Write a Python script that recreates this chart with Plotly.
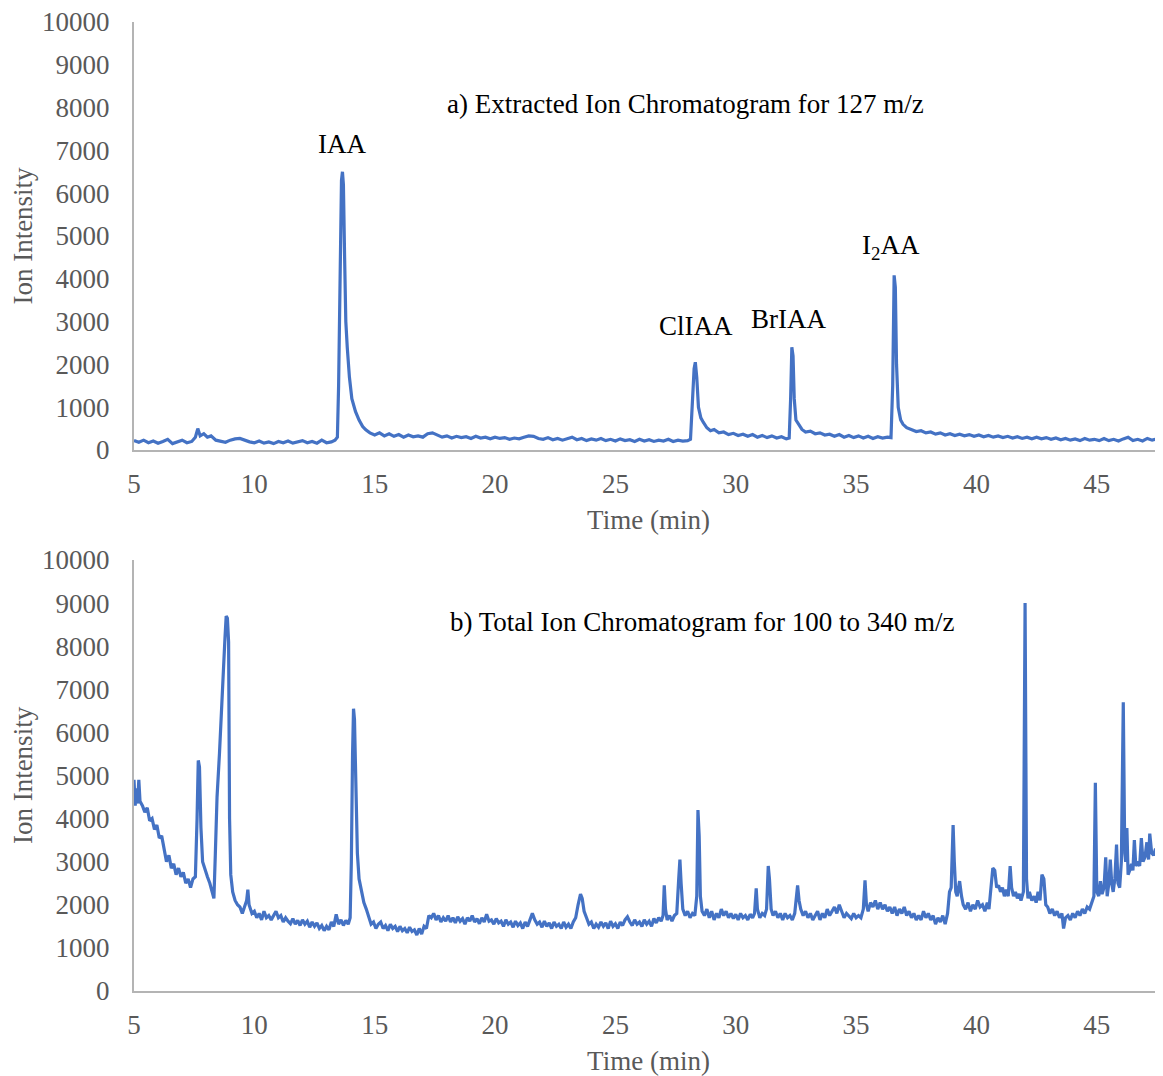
import plotly.graph_objects as go
from plotly.subplots import make_subplots

# ---------------- data ----------------
a_time = [
    5.0, 5.2, 5.4, 5.6, 5.8, 6.0, 6.2, 6.4, 6.6, 6.8,
    7.0, 7.2, 7.4, 7.55, 7.65, 7.75, 7.9, 8.05, 8.2, 8.4,
    8.6, 8.8, 9.0, 9.2, 9.4, 9.6, 9.8, 10.0, 10.2, 10.4,
    10.6, 10.8, 11.0, 11.2, 11.4, 11.6, 11.8, 12.0, 12.2, 12.4,
    12.6, 12.8, 13.0, 13.2, 13.35, 13.45, 13.5, 13.55, 13.62, 13.66,
    13.7, 13.75, 13.8, 13.86, 13.95, 14.05, 14.2, 14.35, 14.5, 14.63,
    14.8, 15.0, 15.2, 15.4, 15.6, 15.8, 16.0, 16.2, 16.4, 16.6,
    16.8, 17.0, 17.2, 17.4, 17.6, 17.8, 18.0, 18.2, 18.4, 18.6,
    18.8, 19.0, 19.2, 19.4, 19.6, 19.8, 20.0, 20.2, 20.4, 20.6,
    20.8, 21.0, 21.2, 21.4, 21.6, 21.8, 22.0, 22.2, 22.4, 22.6,
    22.8, 23.0, 23.2, 23.4, 23.6, 23.8, 24.0, 24.2, 24.4, 24.6,
    24.8, 25.0, 25.2, 25.4, 25.6, 25.8, 26.0, 26.2, 26.4, 26.6,
    26.8, 27.0, 27.2, 27.4, 27.6, 27.8, 28.0, 28.12, 28.2, 28.27,
    28.32, 28.38, 28.45, 28.55, 28.65, 28.8, 28.95, 29.1, 29.3, 29.5,
    29.7, 29.9, 30.1, 30.3, 30.5, 30.7, 30.9, 31.1, 31.3, 31.5,
    31.7, 31.9, 32.1, 32.22, 32.28, 32.33, 32.38, 32.43, 32.5, 32.6,
    32.75, 32.9, 33.1, 33.3, 33.5, 33.7, 33.9, 34.1, 34.3, 34.5,
    34.7, 34.9, 35.1, 35.3, 35.5, 35.7, 35.9, 36.1, 36.3, 36.45,
    36.52, 36.58, 36.63, 36.68, 36.75, 36.85, 36.95, 37.1, 37.3, 37.5,
    37.7, 37.9, 38.1, 38.3, 38.5, 38.7, 38.9, 39.1, 39.3, 39.5,
    39.7, 39.9, 40.1, 40.3, 40.5, 40.7, 40.9, 41.1, 41.3, 41.5,
    41.7, 41.9, 42.1, 42.3, 42.5, 42.7, 42.9, 43.1, 43.3, 43.5,
    43.7, 43.9, 44.1, 44.3, 44.5, 44.7, 44.9, 45.1, 45.3, 45.5,
    45.7, 45.9, 46.1, 46.3, 46.5, 46.7, 46.9, 47.1, 47.3, 47.5,
    47.75,
]
a_intensity = [
    220, 180, 230, 170, 210, 160, 200, 250, 150, 190,
    230, 170, 200, 300, 500, 330, 380, 300, 330, 230,
    200, 180, 230, 260, 270, 220, 190, 170, 210, 160,
    190, 150, 200, 170, 210, 160, 190, 220, 170, 200,
    160, 230, 170, 190, 230, 300, 1500, 4000, 6300, 6500,
    6200, 4500, 3000, 2400, 1700, 1200, 900, 700, 550, 470,
    400, 350, 400, 330, 380, 320, 360, 300, 350, 310,
    330, 300, 380, 400, 340, 300, 330, 280, 320, 290,
    310, 270, 320, 280, 300, 260, 300, 270, 290, 250,
    280, 260, 300, 330, 320, 270, 250, 290, 240, 270,
    230, 260, 300, 240, 270, 220, 260, 230, 270, 220,
    250, 210, 260, 220, 240, 200, 250, 210, 240, 200,
    230, 210, 250, 200, 230, 210, 220, 250, 1000, 1900,
    2050, 1700, 1000, 750, 650, 520, 450, 480, 400, 420,
    360, 390, 340, 370, 320, 360, 300, 340, 290, 330,
    280, 310, 260, 280, 1200, 2400, 2200, 1200, 700, 600,
    480, 420, 440, 380, 400, 350, 370, 320, 360, 300,
    340, 290, 330, 280, 320, 270, 310, 280, 300, 290,
    1500, 4080, 3800, 2000, 1000, 700, 600, 520, 470, 430,
    450, 400, 420, 370, 400, 350, 380, 340, 370, 330,
    360, 320, 350, 310, 340, 300, 330, 290, 320, 280,
    310, 270, 300, 260, 300, 260, 290, 250, 280, 240,
    270, 230, 260, 220, 270, 230, 250, 220, 270, 220,
    250, 210, 260, 300, 220, 250, 210, 270, 230, 260,
    220,
]

b_time = [
    5.0, 5.05, 5.1, 5.15, 5.2, 5.25, 5.35, 5.45, 5.55, 5.65,
    5.75, 5.85, 5.95, 6.05, 6.15, 6.25, 6.35, 6.45, 6.55, 6.65,
    6.75, 6.85, 6.95, 7.05, 7.15, 7.25, 7.35, 7.45, 7.55, 7.62,
    7.67, 7.72, 7.78, 7.85, 7.95, 8.05, 8.15, 8.25, 8.32, 8.38,
    8.45, 8.55, 8.65, 8.72, 8.78, 8.83, 8.88, 8.93, 8.97, 9.02,
    9.1, 9.2, 9.3, 9.4, 9.5, 9.6, 9.68, 9.73, 9.78, 9.9,
    10.0, 10.1, 10.2, 10.3, 10.4, 10.5, 10.6, 10.7, 10.8, 10.9,
    11.0, 11.1, 11.2, 11.3, 11.4, 11.5, 11.6, 11.7, 11.8, 11.9,
    12.0, 12.1, 12.2, 12.3, 12.4, 12.5, 12.6, 12.7, 12.8, 12.9,
    13.0, 13.1, 13.2, 13.3, 13.4, 13.5, 13.6, 13.7, 13.8, 13.9,
    13.98, 14.03, 14.08, 14.12, 14.16, 14.22, 14.28, 14.35, 14.45, 14.55,
    14.65, 14.75, 14.85, 14.95, 15.05, 15.15, 15.25, 15.35, 15.45, 15.55,
    15.65, 15.75, 15.85, 15.95, 16.05, 16.15, 16.25, 16.35, 16.45, 16.55,
    16.65, 16.75, 16.85, 16.95, 17.05, 17.15, 17.25, 17.35, 17.45, 17.55,
    17.65, 17.75, 17.85, 17.95, 18.05, 18.15, 18.25, 18.35, 18.45, 18.55,
    18.65, 18.75, 18.85, 18.95, 19.05, 19.15, 19.25, 19.35, 19.45, 19.55,
    19.65, 19.75, 19.85, 19.95, 20.05, 20.15, 20.25, 20.35, 20.45, 20.55,
    20.65, 20.75, 20.85, 20.95, 21.05, 21.15, 21.25, 21.35, 21.45, 21.55,
    21.65, 21.75, 21.85, 21.95, 22.05, 22.15, 22.25, 22.35, 22.45, 22.55,
    22.65, 22.75, 22.85, 22.95, 23.05, 23.15, 23.25, 23.35, 23.45, 23.55,
    23.62, 23.7, 23.8, 23.9, 24.0, 24.1, 24.2, 24.3, 24.4, 24.5,
    24.6, 24.7, 24.8, 24.9, 25.0, 25.1, 25.2, 25.3, 25.4, 25.5,
    25.6, 25.7, 25.8, 25.9, 26.0, 26.1, 26.2, 26.3, 26.4, 26.5,
    26.6, 26.7, 26.8, 26.9, 26.98, 27.03, 27.08, 27.15, 27.25, 27.35,
    27.45, 27.55, 27.63, 27.68, 27.73, 27.8, 27.9, 28.0, 28.1, 28.2,
    28.3, 28.38, 28.43, 28.48, 28.53, 28.6, 28.7, 28.8, 28.9, 29.0,
    29.1, 29.2, 29.3, 29.4, 29.5, 29.6, 29.7, 29.8, 29.9, 30.0,
    30.1, 30.2, 30.3, 30.4, 30.5, 30.6, 30.7, 30.78, 30.85, 30.9,
    31.0, 31.1, 31.2, 31.28, 31.35, 31.4, 31.47, 31.55, 31.65, 31.75,
    31.85, 31.95, 32.05, 32.15, 32.25, 32.35, 32.45, 32.52, 32.57, 32.63,
    32.7, 32.8, 32.9, 33.0, 33.1, 33.2, 33.3, 33.4, 33.5, 33.6,
    33.7, 33.8, 33.9, 34.0, 34.1, 34.2, 34.3, 34.4, 34.5, 34.6,
    34.7, 34.8, 34.9, 35.0, 35.1, 35.2, 35.3, 35.37, 35.43, 35.5,
    35.6, 35.7, 35.8, 35.9, 36.0, 36.1, 36.2, 36.3, 36.4, 36.5,
    36.6, 36.7, 36.8, 36.9, 37.0, 37.1, 37.2, 37.3, 37.4, 37.5,
    37.6, 37.7, 37.8, 37.9, 38.0, 38.1, 38.2, 38.3, 38.4, 38.5,
    38.6, 38.7, 38.8, 38.88, 38.95, 39.03, 39.08, 39.14, 39.2, 39.3,
    39.38, 39.45, 39.55, 39.65, 39.75, 39.85, 39.95, 40.05, 40.15, 40.25,
    40.35, 40.45, 40.52, 40.6, 40.68, 40.76, 40.84, 40.92, 41.0, 41.08,
    41.16, 41.24, 41.32, 41.4, 41.46, 41.54, 41.62, 41.7, 41.78, 41.85,
    41.95, 42.02, 42.08, 42.14, 42.2, 42.3, 42.4, 42.48, 42.56, 42.64,
    42.72, 42.8, 42.88, 42.96, 43.05, 43.15, 43.25, 43.35, 43.45, 43.55,
    43.62, 43.7, 43.8, 43.9, 44.0, 44.1, 44.2, 44.3, 44.4, 44.5,
    44.6, 44.7, 44.8, 44.88, 44.94, 45.0, 45.08, 45.15, 45.22, 45.3,
    45.37, 45.43, 45.5, 45.56, 45.62, 45.68, 45.75, 45.82, 45.88, 45.95,
    46.02, 46.1, 46.16, 46.2, 46.25, 46.3, 46.37, 46.44, 46.5, 46.56,
    46.62, 46.7, 46.78, 46.85, 46.92, 47.0, 47.08, 47.15, 47.2, 47.28,
    47.36, 47.44, 47.52, 47.6, 47.66, 47.7, 47.75,
]
b_intensity = [
    4900, 4300, 4700, 4350, 4900, 4400, 4300, 4150, 4250, 3950,
    4000, 3750, 3850, 3550, 3600, 3300, 3000, 3150, 2850, 2950,
    2700, 2850, 2650, 2750, 2500, 2600, 2400, 2600, 2650, 4000,
    5350, 5200, 3800, 3000, 2800, 2650, 2500, 2250, 2150, 3200,
    4500, 5500, 6500, 7500, 8200, 8700, 8650, 8100, 4000, 2700,
    2300, 2100, 2000, 1950, 1800, 1950, 2100, 2350, 2000, 1800,
    1850, 1700, 1800, 1650, 1850, 1700, 1750, 1650, 1750, 1850,
    1700, 1750, 1600, 1700, 1620, 1560, 1680, 1550, 1640, 1520,
    1650, 1550, 1620, 1480, 1600, 1500, 1580, 1450, 1520, 1400,
    1500, 1420, 1600, 1500, 1780, 1550, 1650, 1520, 1640, 1550,
    1700, 3000, 5500, 6550, 6300, 4300, 3200, 2600, 2300, 2050,
    1900, 1700, 1550, 1600, 1450, 1550, 1600, 1450, 1520, 1400,
    1550, 1450, 1500, 1380, 1500, 1400, 1450, 1350, 1480, 1380,
    1420, 1300, 1450, 1320, 1500, 1450, 1750, 1700, 1800, 1650,
    1750, 1600, 1700, 1620, 1750, 1600, 1700, 1580, 1720, 1620,
    1680, 1550, 1700, 1620, 1750, 1600, 1680, 1560, 1700, 1600,
    1780, 1620, 1650, 1550, 1680, 1580, 1620, 1500, 1650, 1550,
    1600, 1480, 1620, 1520, 1580, 1450, 1600, 1500, 1650, 1800,
    1650, 1550, 1600, 1480, 1620, 1500, 1580, 1450, 1600, 1500,
    1550, 1450, 1600, 1480, 1550, 1450, 1600, 1700, 2000, 2250,
    2150, 1850, 1700, 1550, 1600, 1450, 1550, 1480, 1600, 1500,
    1580, 1450, 1620, 1500, 1560, 1450, 1600, 1520, 1650, 1720,
    1600, 1520, 1650, 1550, 1600, 1500, 1650, 1550, 1620, 1500,
    1680, 1580, 1700, 1620, 1750, 2450, 1900, 1650, 1750, 1620,
    1750, 1800, 2600, 3050, 2500, 1900, 1750, 1850, 1700, 1800,
    1750, 2200, 4200, 3600, 2200, 1850, 1750, 1900, 1700, 1850,
    1650, 1800, 1700, 1900, 1750, 1850, 1700, 1800, 1680, 1780,
    1650, 1800, 1700, 1750, 1650, 1780, 1700, 1800, 2380, 1900,
    1700, 1800, 1750, 1900, 2900, 2600, 1900, 1750, 1850, 1700,
    1800, 1650, 1800, 1700, 1750, 1650, 1800, 2300, 2450, 2100,
    1900, 1750, 1850, 1700, 1800, 1650, 1750, 1850, 1650, 1800,
    1700, 1900, 1750, 1850, 1950, 1800, 2000, 1850, 1700, 1800,
    1750, 1680, 1800, 1700, 1750, 1700, 1900, 2570, 2000, 1850,
    2050, 1950, 2100, 1900, 2050, 1900, 2000, 1850, 1950, 1800,
    1950, 1750, 1900, 1800, 1950, 1750, 1850, 1700, 1800, 1650,
    1750, 1650, 1850, 1700, 1800, 1650, 1750, 1550, 1700, 1600,
    1750, 1550, 1800, 2300, 2400, 3850, 3000, 2300, 2200, 2550,
    2200, 2000, 1900, 2050, 1850, 2000, 1900, 2100, 1950, 2000,
    1850, 2050, 1900, 2500, 2850, 2800, 2400, 2450, 2300, 2400,
    2200, 2350, 2200, 2900, 2400, 2200, 2300, 2150, 2250, 2100,
    2300, 9000, 2600, 2150, 2300, 2100, 2200, 2050, 2300, 2100,
    2700, 2600, 2000, 1950, 1800, 1900, 1750, 1850, 1700, 1800,
    1450, 1700, 1750, 1650, 1800, 1700, 1850, 1750, 1900, 1800,
    1950, 1900, 2100, 2200, 4830, 2300, 2200, 2550, 2250, 2400,
    3100, 2200, 2500, 3050, 2500, 2300, 2600, 3400, 2500, 2400,
    3000, 6700, 3200, 3000, 3780, 2700, 2800, 2950, 2800, 3500,
    2900, 3000, 2900, 3550, 3000, 3100, 3450, 3050, 3650, 3200,
    3150, 3300, 3100, 3800, 3300, 4650, 2800,
]

y_ticks = [0, 1000, 2000, 3000, 4000, 5000, 6000, 7000, 8000, 9000, 10000]
y_tick_labels = ["0", "1000", "2000", "3000", "4000", "5000",
                 "6000", "7000", "8000", "9000", "10000"]
x_ticks = [5, 10, 15, 20, 25, 30, 35, 40, 45]
x_tick_labels = ["5", "10", "15", "20", "25", "30", "35", "40", "45"]

peak_labels = ["IAA", "ClIAA", "BrIAA", "I<sub>2</sub>AA"]
peak_label_time = [13.65, 28.35, 32.2, 36.45]
peak_label_level = [7150, 2900, 3050, 4750]

title_a = "a) Extracted Ion Chromatogram for 127 m/z"
title_b = "b) Total Ion Chromatogram for 100 to 340 m/z"

assert len(a_time) == len(a_intensity)
assert len(b_time) == len(b_intensity)

# ---------------- figure ----------------
FONT = "Liberation Serif, Times New Roman, serif"
GRAY = "#595959"
AXIS = "#b4b4b4"
LINE = "#4472C4"
FS = 27

fig = make_subplots(rows=2, cols=1, vertical_spacing=0.11)

fig.add_trace(go.Scatter(x=a_time, y=a_intensity, mode="lines",
                         line=dict(color=LINE, width=3.2), showlegend=False,
                         name="127 m/z"), row=1, col=1)
fig.add_trace(go.Scatter(x=b_time, y=b_intensity, mode="lines",
                         line=dict(color=LINE, width=3.2), showlegend=False,
                         name="TIC"), row=2, col=1)

axis_common_x = dict(range=[5, 47.75], tickvals=x_ticks, ticktext=x_tick_labels,
                     showgrid=False, zeroline=False, automargin=False,
                     showline=True, linecolor=AXIS, linewidth=2,
                     ticks="outside", ticklen=9, tickcolor="rgba(0,0,0,0)",
                     ticklabeloverflow="allow",
                     tickfont=dict(family=FONT, size=FS, color=GRAY),
                     title=dict(text="Time (min)", font=dict(family=FONT, size=FS, color=GRAY),
                                standoff=12))
axis_common_y = dict(range=[0, 10000], tickvals=y_ticks, ticktext=y_tick_labels,
                     showgrid=False, zeroline=False, automargin=False,
                     showline=True, linecolor=AXIS, linewidth=2,
                     ticks="outside", ticklen=17, tickcolor="rgba(0,0,0,0)",
                     ticklabeloverflow="allow",
                     tickfont=dict(family=FONT, size=FS, color=GRAY),
                     title=dict(text="Ion Intensity", font=dict(family=FONT, size=FS, color=GRAY),
                                standoff=9))

fig.update_xaxes(**axis_common_x)
fig.update_yaxes(**axis_common_y)
fig.update_layout(
    xaxis=dict(domain=[0, 1]), xaxis2=dict(domain=[0, 1]),
    yaxis=dict(domain=[0.5583, 1.0]), yaxis2=dict(domain=[0.0, 0.4448]),
)

annos = []
for lab, t, lv in zip(peak_labels, peak_label_time, peak_label_level):
    annos.append(dict(x=t, y=lv, xref="x", yref="y", text=lab, showarrow=False,
                      font=dict(family=FONT, size=FS, color="black")))
annos.append(dict(x=27.93, y=8080, xref="x", yref="y", text=title_a, showarrow=False,
                  font=dict(family=FONT, size=FS, color="black")))
annos.append(dict(x=28.6, y=8560, xref="x2", yref="y2", text=title_b, showarrow=False,
                  font=dict(family=FONT, size=FS, color="black")))

# the page body adds an 8 px offset, so the figure is 8 px smaller and margins shifted
fig.update_layout(
    width=1155, height=1068,
    margin=dict(l=126, r=0, t=14, b=85),
    paper_bgcolor="white", plot_bgcolor="white",
    annotations=annos,
    font=dict(family=FONT),
)

fig.write_html("out.html")
